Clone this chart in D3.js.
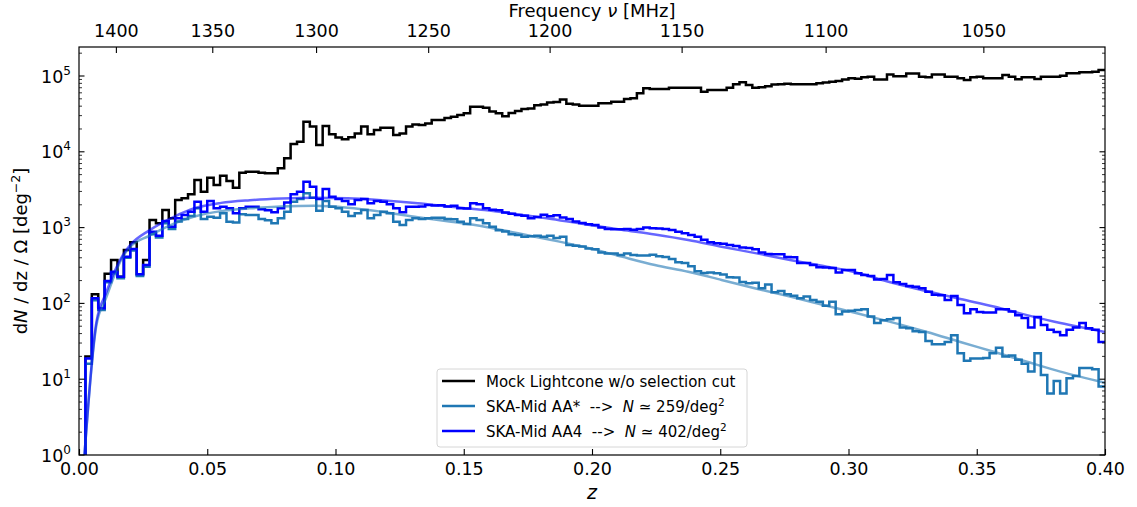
<!DOCTYPE html>
<html>
<head>
<meta charset="utf-8">
<script src="https://cdn.jsdelivr.net/npm/d3@7"></script>
<style>
  body { margin: 0; background: #fff; }
  svg { font-family: "DejaVu Sans", sans-serif; }
  text { white-space: pre; }
</style>
</head>
<body>
<svg id="paper" width="1137" height="507"></svg>
<script>
// histogram: 160 bins of width 0.0025 in z, starting at z = 0
const binWidth = 0.0025;

const mockCounts = [
  0, 20, 132, 86, 247, 374, 225, 507, 639, 242,
  374, 1260, 1140, 1710, 1330, 2310, 2430, 2750, 4250, 2980,
  4560, 3650, 4840, 4120, 3360, 5310, 5470, 5470, 5300, 5200,
  5200, 6050, 8200, 12700, 13600, 25000, 21500, 12300, 21900, 17000,
  15400, 14600, 15500, 17500, 21500, 17000, 19400, 20800, 20800, 16700,
  17500, 21500, 23000, 22600, 23700, 26300, 26300, 28000, 29000, 30600,
  32200, 39400, 39400, 38200, 33900, 32200, 29400, 32600, 34500, 36600,
  37300, 41200, 42000, 44600, 45500, 48800, 43100, 42000, 40400, 40400,
  40600, 43600, 43600, 45800, 45800, 49700, 50700, 59000, 68800, 67400,
  67400, 67400, 70200, 70200, 70200, 70200, 70200, 62100, 65300, 65300,
  65300, 70200, 77600, 82500, 76000, 70200, 71000, 73000, 77000, 78000,
  79000, 78000, 77600, 77600, 78000, 80000, 82000, 84200, 85900, 90000,
  93100, 92000, 96000, 98000, 90000, 90000, 105000, 99000, 99000, 108000,
  108000, 98000, 96000, 105000, 105000, 98000, 98000, 93100, 88600, 96000,
  98000, 93100, 93100, 93100, 103000, 98000, 90400, 96000, 96000, 91200,
  98000, 98000, 98000, 101000, 108400, 108400, 111700, 111700, 114000, 120000
];

const aaStarCounts = [
  0, 16, 110, 82, 190, 250, 215, 400, 500, 230,
  305, 820, 740, 1140, 960, 1200, 1300, 1420, 1795, 1300,
  1393, 1350, 1543, 1197, 1170, 1500, 1466, 1466, 1298, 1250,
  1138, 1325, 1622, 2198, 2384, 2832, 2483, 1672, 2244, 1890,
  1795, 1622, 1422, 1543, 1708, 1325, 1466, 1622, 1543, 1197,
  1081, 1259, 1325, 1298, 1325, 1352, 1352, 1298, 1285, 1197,
  1115, 1325, 1259, 1138, 1028, 920, 890, 820, 800, 760,
  770, 780, 760, 780, 730, 760, 590, 575, 565, 528,
  520, 470, 455, 455, 435, 455, 435, 430, 430, 440,
  420, 410, 385, 350, 340, 310, 265, 252, 255, 250,
  240, 222, 220, 192, 184, 187, 158, 178, 140, 146,
  132, 126, 117, 123, 111, 105, 93, 105, 72, 78,
  80, 82, 84, 67, 55, 60, 62, 64, 48, 47,
  43, 42, 32, 29, 29, 31, 38, 22, 17.5, 18.8,
  18.8, 19, 22, 26, 20, 20.5, 18, 16, 12.6, 22,
  11.4, 6.5, 9.5, 6.5, 10.3, 11, 14, 14, 13.5, 8
];

const aa4Counts = [
  0, 18.8, 117, 86, 198, 262, 225, 414, 522, 242,
  321, 884, 783, 1222, 1028, 1325, 1466, 1622, 2198, 1622,
  2244, 1795, 1890, 1795, 1543, 1795, 1890, 1890, 1750, 1700,
  1600, 1800, 2150, 2750, 2980, 4036, 3470, 2384, 3230, 2560,
  2384, 2244, 2028, 2312, 2384, 2090, 2244, 2198, 2028, 1795,
  1590, 1890, 1890, 1900, 1990, 1950, 1970, 1900, 1940, 1800,
  1780, 2090, 2030, 1800, 1720, 1700, 1580, 1520, 1470, 1430,
  1330, 1380, 1480, 1410, 1460, 1360, 1300, 1200, 1150, 1110,
  1080, 1000, 960, 950, 950, 960, 940, 960, 1000, 977,
  970, 960, 930, 880, 840, 800, 760, 690, 640, 620,
  610, 590, 570, 545, 540, 520, 470, 450, 445, 445,
  410, 405, 340, 340, 321, 300, 298, 292, 255, 276,
  276, 250, 237, 230, 206, 210, 237, 190, 180, 170,
  166, 158, 143, 130, 128, 111, 125, 95, 74, 84,
  77, 76, 76, 84, 84, 78, 70, 64, 48, 66,
  52, 45, 42, 38, 45, 48, 55, 47, 45, 31
];

// smooth model curves
const fitZ = [0.0013, 0.0068, 0.0105, 0.0172, 0.0202, 0.0274, 0.0372, 0.045, 0.0554, 0.0666,
  0.0788, 0.0918, 0.1048, 0.1178, 0.1321, 0.1451, 0.1582, 0.1712, 0.1842, 0.1985,
  0.2115, 0.2245, 0.2375, 0.2505, 0.2642, 0.2772, 0.2903, 0.3033, 0.3163, 0.3306,
  0.3436, 0.3566, 0.3696, 0.3826, 0.40];
const fitAAStar = [0.4, 52, 117, 420, 570, 780, 1138, 1400, 1650, 1795,
  1900, 1945, 1832, 1622, 1370, 1197, 1028, 840, 686, 540,
  414, 321, 262, 204, 156, 123, 95, 74, 57, 42,
  31, 23, 17, 12.6, 9];
const fitAA4 = [0.4, 57, 136, 440, 600, 920, 1400, 1800, 2120, 2300,
  2420, 2480, 2440, 2300, 2100, 1880, 1700, 1490, 1300, 1090,
  935, 810, 685, 560, 457, 374, 311, 254, 190, 145,
  114, 91, 70, 55, 42];

const zTicks = [0, 0.05, 0.10, 0.15, 0.20, 0.25, 0.30, 0.35, 0.40];
const freqTicks = [1400, 1350, 1300, 1250, 1200, 1150, 1100, 1050];
const yDecades = [1, 10, 100, 1e3, 1e4, 1e5];
const legendNames = ["Mock Lightcone w/o selection cut", "SKA-Mid AA*  -->  ", "SKA-Mid AA4  -->  "];
const legendDensity = [null, "259", "402"];

const nu21 = 1420.405751; // MHz

// set the dimensions and margins of the diagram
var margin = {top: 47, right: 32, bottom: 52, left: 79},
    width = 1137 - margin.left - margin.right,
    height = 507 - margin.top - margin.bottom;

var x = d3.scaleLinear().domain([0, 0.4]).range([0, width]);
var y = d3.scaleLog().domain([1, Math.pow(10, height / 75.8)]).range([height, 0]);
const floorVal = 0.3;

var svg = d3.select("#paper"),
    g = svg.append("g")
        .attr("transform", "translate(" + margin.left + "," + margin.top + ")");

svg.append("defs").append("clipPath").attr("id", "plotclip")
    .append("rect").attr("width", width).attr("height", height);

// step outline of a histogram (the closing drop at z = 0.4 sits under the spine)
function stepPoints(counts) {
    let pts = [[0, 0]];
    counts.forEach((c, i) => {
        pts.push([i * binWidth, c]);
        pts.push([(i + 1) * binWidth, c]);
    });
    return pts;
}

var stepLine = d3.line()
    .x(d => x(d[0]))
    .y(d => y(Math.max(d[1], floorVal)));

var plot = g.append("g").attr("clip-path", "url(#plotclip)");

const series = [
    {counts: mockCounts, color: "#000000"},
    {counts: aaStarCounts, color: "#1f77b4"},
    {counts: aa4Counts, color: "#0000ff"}
];

series.forEach(s => {
    plot.append("path")
        .attr("d", stepLine(stepPoints(s.counts)))
        .attr("fill", "none")
        .attr("stroke", s.color)
        .attr("stroke-width", 2.5)
        .attr("stroke-linejoin", "miter");
});

var fitLine = d3.line()
    .curve(d3.curveMonotoneX)
    .x(d => x(d[0]))
    .y(d => y(Math.max(d[1], floorVal)));

[[fitAAStar, "#1f77b4"], [fitAA4, "#0000ff"]].forEach(([vals, col]) => {
    plot.append("path")
        .attr("d", fitLine(fitZ.map((z, i) => [z, vals[i]])))
        .attr("fill", "none")
        .attr("stroke", col)
        .attr("stroke-opacity", 0.6)
        .attr("stroke-width", 2.5);
});

// bottom axis, ticks pointing inward
var xAxis = g.append("g")
    .attr("transform", "translate(0," + height + ")")
    .call(d3.axisBottom(x).tickValues(zTicks).tickFormat(d3.format(".2f"))
        .tickSizeInner(-6).tickSizeOuter(0).tickPadding(7.5));
xAxis.select(".domain").remove();
xAxis.selectAll("text").attr("font-size", 17.5).attr("font-family", "DejaVu Sans").attr("fill", "#000");
xAxis.selectAll("line").attr("stroke", "#000").attr("stroke-width", 1.1);

// top axis: frequency of the 21cm line
var topTicks = g.append("g").selectAll("g")
    .data(freqTicks)
    .enter().append("g")
    .attr("transform", d => "translate(" + x(nu21 / d - 1) + ",0)");
topTicks.append("line").attr("y2", 6).attr("stroke", "#000").attr("stroke-width", 1.1);
topTicks.append("text")
    .attr("y", -10)
    .attr("text-anchor", "middle")
    .attr("font-size", 17.5)
    .text(d => d);

// log y axis, left and right, major + minor ticks inward
let minor = [];
yDecades.forEach(d => {
    for (let k = 2; k <= 9; k++) {
        if (k * d < y.domain()[1]) minor.push(k * d);
    }
});

[0, width].forEach(xp => {
    const dir = xp === 0 ? 1 : -1;
    g.append("g").selectAll("line.maj")
        .data(yDecades).enter().append("line")
        .attr("x1", xp).attr("x2", xp + dir * 5.5)
        .attr("y1", d => y(d)).attr("y2", d => y(d))
        .attr("stroke", "#000").attr("stroke-width", 1.1);
    g.append("g").selectAll("line.min")
        .data(minor).enter().append("line")
        .attr("x1", xp).attr("x2", xp + dir * 3)
        .attr("y1", d => y(d)).attr("y2", d => y(d))
        .attr("stroke", "#000").attr("stroke-width", 0.8);
});

var yLabels = g.append("g").selectAll("text")
    .data(yDecades).enter().append("text")
    .attr("x", -8)
    .attr("y", d => y(d) + 6.5)
    .attr("text-anchor", "end")
    .attr("font-size", 17.5);
yLabels.append("tspan").text("10");
yLabels.append("tspan")
    .attr("font-size", 12)
    .attr("dy", -8)
    .text(d => Math.round(Math.log10(d)));

// frame
g.append("rect")
    .attr("width", width).attr("height", height)
    .attr("fill", "none").attr("stroke", "#000").attr("stroke-width", 1.2);

// axis labels
svg.append("text")
    .attr("x", margin.left + width / 2).attr("y", 17)
    .attr("text-anchor", "middle").attr("font-size", 18)
    .html("Frequency <tspan font-style=\"italic\">ν</tspan> [MHz]");

svg.append("text")
    .attr("x", margin.left + width / 2).attr("y", 499)
    .attr("text-anchor", "middle").attr("font-size", 19)
    .attr("font-style", "italic")
    .text("z");

svg.append("text")
    .attr("transform", "translate(27," + (margin.top + height / 2) + ") rotate(-90)")
    .attr("text-anchor", "middle").attr("font-size", 18)
    .html("d<tspan font-style=\"italic\">N</tspan> / dz / Ω [deg<tspan font-size=\"12.5\" dy=\"-7\">−2</tspan><tspan dy=\"7\">]</tspan>");

// legend
var legend = svg.append("g").attr("transform", "translate(437,369)");
legend.append("rect")
    .attr("width", 310).attr("height", 78)
    .attr("rx", 3).attr("ry", 3)
    .attr("fill", "#fff").attr("fill-opacity", 0.8)
    .attr("stroke", "#d6d6d6").attr("stroke-width", 1);

var rows = legend.selectAll("g.row")
    .data(series.map((s, i) => ({color: s.color, name: legendNames[i], dens: legendDensity[i]})))
    .enter().append("g")
    .attr("transform", (d, i) => "translate(0," + (12 + i * 25) + ")");
rows.append("line")
    .attr("x1", 5).attr("x2", 38)
    .attr("stroke", d => d.color).attr("stroke-width", 2.5);
var rowText = rows.append("text")
    .attr("x", 49).attr("y", 5.5)
    .attr("font-size", 15);
rowText.append("tspan").text(d => d.name);
rowText.filter(d => d.dens).each(function (d) {
    const t = d3.select(this);
    t.append("tspan").attr("font-style", "italic").text("N");
    t.append("tspan").text(" ≃ " + d.dens + "/deg");
    t.append("tspan").attr("font-size", 10.5).attr("dy", -6).text("2");
});
</script>
</body>
</html>
